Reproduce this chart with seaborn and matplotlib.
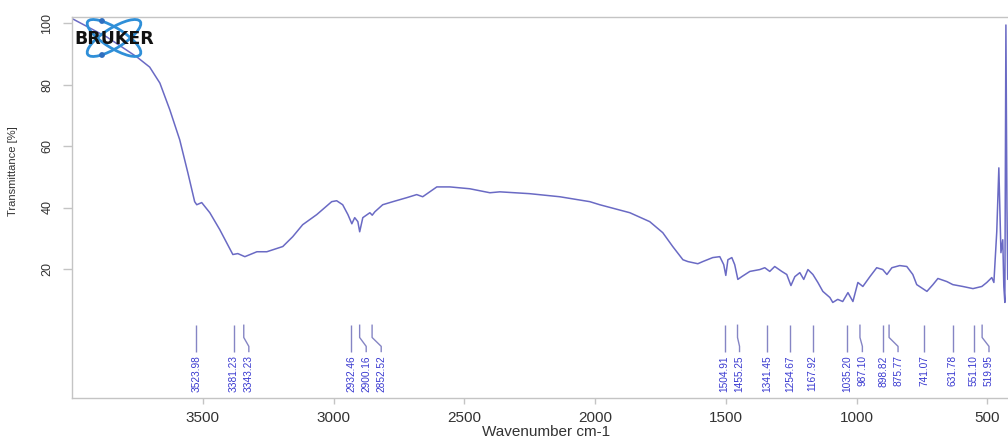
import matplotlib
matplotlib.use("Agg")
import matplotlib.pyplot as plt
from matplotlib.patches import Ellipse, Circle
import seaborn as sns
import pandas as pd

# ---- data ----
wavenumber = [4000, 3867, 3752, 3703, 3664, 3626, 3588, 3557, 3531, 3523, 3504, 3473, 3435,
              3385, 3366, 3339, 3293, 3255, 3194, 3156, 3118, 3064, 3007, 2988, 2965, 2945,
              2930, 2919, 2907, 2900, 2888, 2861, 2852, 2842, 2812, 2773, 2720, 2682, 2659,
              2605, 2555, 2479, 2402, 2364, 2250, 2135, 2020, 1982, 1867, 1791, 1741, 1703,
              1664, 1645, 1607, 1588, 1550, 1523, 1508, 1500, 1492, 1477, 1466, 1454, 1439,
              1408, 1370, 1351, 1332, 1313, 1286, 1267, 1251, 1236, 1217, 1202, 1186, 1167,
              1148, 1129, 1102, 1091, 1072, 1053, 1033, 1014, 995, 976, 949, 923, 900, 884,
              865, 835, 808, 785, 770, 731, 708, 689, 655, 632, 594, 555, 521, 502, 483, 475,
              464, 456, 448, 441, 437, 433, 429, 425, 422]
transmittance = [101.5, 95.5, 89.0, 85.7, 80.5, 71.8, 62.0, 51.3, 41.9, 40.9, 41.6, 38.3, 32.8,
                 24.7, 25.0, 24.0, 25.6, 25.6, 27.3, 30.5, 34.4, 37.7, 41.9, 42.2, 40.9, 37.7,
                 34.7, 36.7, 35.4, 32.1, 36.7, 38.3, 37.5, 38.6, 40.9, 41.9, 43.2, 44.2, 43.5,
                 46.7, 46.7, 46.1, 44.8, 45.1, 44.5, 43.5, 41.9, 40.9, 38.3, 35.4, 31.8, 27.3,
                 23.0, 22.4, 21.7, 22.4, 23.7, 24.0, 21.4, 17.9, 23.0, 23.7, 21.4, 16.6, 17.5,
                 19.2, 19.8, 20.4, 19.2, 20.8, 19.2, 18.2, 14.6, 17.5, 18.8, 16.6, 19.8, 18.2,
                 15.6, 12.7, 10.7, 9.1, 10.1, 9.4, 12.3, 9.4, 15.6, 14.3, 17.5, 20.4, 19.8, 18.2,
                 20.4, 21.1, 20.8, 18.2, 14.9, 12.7, 14.9, 16.9, 15.9, 14.9, 14.3, 13.6, 14.3,
                 15.6, 17.2, 15.6, 32.1, 52.9, 25.3, 29.5, 14.3, 9.1, 99.4, 40.0, 16.6]
peaks = [3523.98, 3381.23, 3343.23, 2932.46, 2900.16, 2852.52, 1504.91, 1455.25, 1341.45,
         1254.67, 1167.92, 1035.20, 987.10, 898.82, 875.77, 741.07, 631.78, 551.10, 519.95]
x_ticks = [3500, 3000, 2500, 2000, 1500, 1000, 500]
y_ticks = [20, 40, 60, 80, 100]

sns.set_theme(style="white")
plt.rcParams["font.family"] = ["Liberation Sans", "DejaVu Sans"]

fig = plt.figure(figsize=(10.08, 4.42), dpi=100)
ax = fig.add_axes([72 / 1008, 44 / 442, 936 / 1008, 381 / 442])

df = pd.DataFrame({"wn": wavenumber, "T": transmittance})
sns.lineplot(data=df, x="wn", y="T", ax=ax, color="#6a6ac4", linewidth=1.1,
             estimator=None, sort=False, legend=False)

ax.set_xlim(4000, 421)
ax.set_ylim(-22, 102)
ax.set_xticks(x_ticks)
ax.set_xticklabels([str(t) for t in x_ticks])
ax.set_yticks(y_ticks)
ax.set_yticklabels([str(t) for t in y_ticks], rotation=90, va="center",
                   family=["Liberation Sans Narrow", "Liberation Sans"])

for side in ["left", "bottom", "top"]:
    ax.spines[side].set_color("#c4c4c4")
    ax.spines[side].set_linewidth(1.0)
ax.spines["right"].set_visible(False)

ax.tick_params(axis="y", direction="out", length=6.5, width=1, color="#c4c4c4",
               labelsize=9, labelcolor="#333333", pad=7, left=True)
ax.tick_params(axis="x", direction="out", length=4, width=1, color="#c4c4c4",
               labelsize=11, labelcolor="#333333", pad=5, bottom=True)

ax.set_xlabel("Wavenumber cm-1", fontsize=11, color="#333333")
ax.xaxis.set_label_coords(0.506, -0.07)
ax.set_ylabel("Transmittance [%]", fontsize=8, color="#333333",
              family=["Liberation Sans Narrow", "Liberation Sans"])
ax.yaxis.set_label_coords(-0.058, 0.596)

# ---- peak annotations ----
min_gap = 57.4  # label spacing in wavenumber units
prev = None
for p in sorted(peaks, reverse=True):
    lab = p if prev is None else min(p, prev - min_gap)
    prev = lab
    ax.plot([p, p, lab, lab], [1.9, -2.3, -5.2, -7.1], color="#8585c4", lw=1.0,
            solid_capstyle="butt")
    ax.text(lab, -8.1, f"{p:.2f}", rotation=90, ha="center", va="top",
            fontsize=7.3, color="#3a3ad0",
            family=["Liberation Sans Narrow", "Liberation Sans"])

# ---- Bruker logo ----
tr = fig.dpi_scale_trans
cx, cy = 1.14, (442 - 38) / 100
for ang in (32, -32):
    fig.patches.append(Ellipse((cx, cy), 0.62, 0.2, angle=ang, fill=False,
                               edgecolor="#2f8fd8", lw=2.0, transform=tr))
for dx, dy in ((1.02, (442 - 21) / 100), (1.02, (442 - 55) / 100)):
    fig.patches.append(Circle((dx, dy), 0.022, color="#2f6fc0", transform=tr))
fig.text(cx, cy - 0.005, "BRUKER", transform=tr, ha="center", va="center",
         fontsize=12.5, fontweight="heavy", color="#111111", family="DejaVu Sans")

fig.savefig("out.png", dpi=100)
